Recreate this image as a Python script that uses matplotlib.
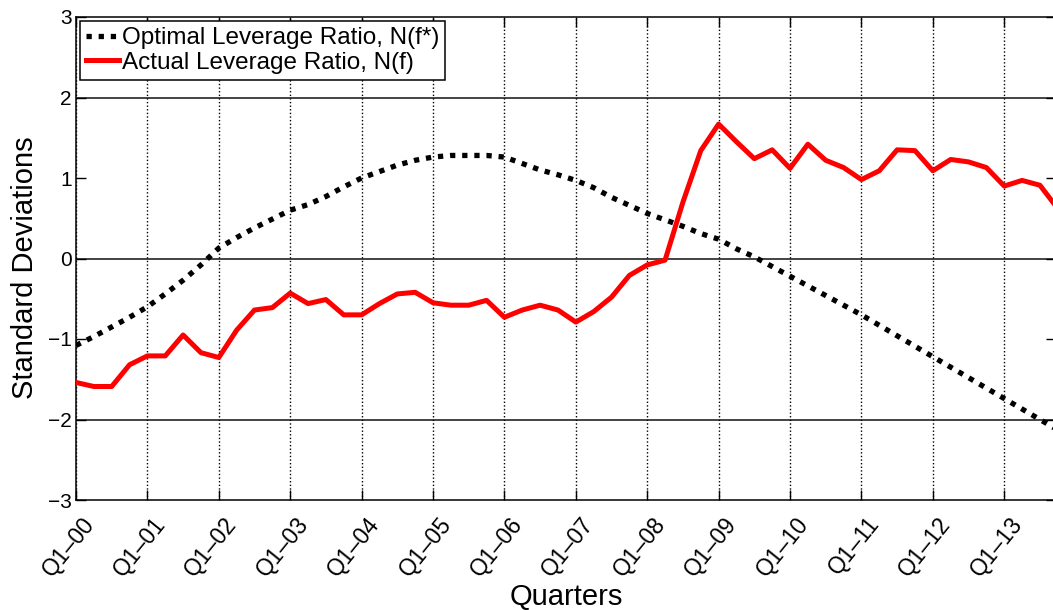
import matplotlib
matplotlib.use("Agg")
import matplotlib.pyplot as plt
import matplotlib.transforms as mtransforms

plt.rcParams['font.family'] = ['Liberation Sans', 'DejaVu Sans']

# quarters starting Q1-00
quarter_index = list(range(56))
year_ticks = list(range(0, 56, 4))
year_labels = ["Q1\u201300", "Q1\u201301", "Q1\u201302", "Q1\u201303", "Q1\u201304",
               "Q1\u201305", "Q1\u201306", "Q1\u201307", "Q1\u201308", "Q1\u201309",
               "Q1\u201310", "Q1\u201311", "Q1\u201312", "Q1\u201313"]

optimal = [-1.08, -0.97, -0.85, -0.73, -0.60, -0.44, -0.27, -0.08,
           0.13, 0.26, 0.38, 0.49, 0.60, 0.67, 0.77, 0.89,
           1.00, 1.08, 1.16, 1.22, 1.26, 1.28, 1.28, 1.28,
           1.26, 1.18, 1.10, 1.04, 0.97, 0.88, 0.76, 0.66,
           0.56, 0.48, 0.40, 0.31, 0.24, 0.12, 0.02, -0.10,
           -0.22, -0.34, -0.46, -0.58, -0.70, -0.83, -0.96, -1.09,
           -1.22, -1.35, -1.48, -1.61, -1.74, -1.87, -2.00, -2.13]

actual = [-1.54, -1.59, -1.59, -1.32, -1.21, -1.21, -0.95, -1.17,
          -1.23, -0.89, -0.64, -0.61, -0.43, -0.56, -0.51, -0.70,
          -0.70, -0.56, -0.44, -0.42, -0.55, -0.58, -0.58, -0.52,
          -0.73, -0.64, -0.58, -0.64, -0.79, -0.66, -0.48, -0.21,
          -0.08, -0.02, 0.70, 1.34, 1.67, 1.45, 1.24, 1.35,
          1.12, 1.42, 1.22, 1.13, 0.98, 1.09, 1.35, 1.34,
          1.09, 1.23, 1.20, 1.13, 0.90, 0.97, 0.91, 0.62]

hlines = [2, 0, -2]

W, H = 1053, 610
fig = plt.figure(figsize=(W / 100, H / 100), dpi=100)
ax = fig.add_axes([76 / W, 1 - 500 / H, 980 / W, 483 / H])

for x in year_ticks:
    ax.axvline(x, color='black', lw=1.0, ls=(0, (1, 1.6)), zorder=1)
for y in hlines:
    ax.axhline(y, color='#111111', lw=1.1, zorder=1)

ax.plot(quarter_index, optimal, color='black', lw=3.8, ls=(0, (1, 1.3)),
        label='Optimal Leverage Ratio, N(f*)', zorder=3)
ax.plot(quarter_index, actual, color='#ff0000', lw=3.6,
        label='Actual Leverage Ratio, N(f)', zorder=4)

ax.set_xlim(0, 54.9)
ax.set_ylim(-3, 3)
ax.set_yticks([-3, -2, -1, 0, 1, 2, 3])
ax.set_yticklabels(['\u22123', '\u22122', '\u22121', '0', '1', '2', '3'])
ax.set_xticks(year_ticks)
ax.set_xticklabels(year_labels, rotation=51, ha='right', va='top',
                   rotation_mode='anchor')
ax.tick_params(direction='in', top=True, right=True, length=7, width=1,
               labelsize=15, colors='black')
ax.tick_params(axis='x', pad=9, labelsize=16.5)
ax.tick_params(axis='y', pad=3)
offset = mtransforms.ScaledTranslation(5 / 100, 0, fig.dpi_scale_trans)
for lbl in ax.get_xticklabels():
    lbl.set_transform(lbl.get_transform() + offset)
for s in ax.spines.values():
    s.set_linewidth(1.1)

ax.set_xlabel('Quarters', fontsize=21)
ax.xaxis.set_label_coords(0.5, -0.172)
ax.set_ylabel('Standard Deviations', fontsize=21)
ax.yaxis.set_label_coords(-0.038, 0.48)

leg = ax.legend(loc='upper left', bbox_to_anchor=(0, 1), borderaxespad=0.18,
                fontsize=17.5, handlelength=1.35, handletextpad=0.1,
                labelspacing=0.1, borderpad=0.25, fancybox=False,
                framealpha=1, edgecolor='black')
leg.get_frame().set_linewidth(1.1)
leg.set_zorder(10)

fig.savefig('out.png', dpi=100)
